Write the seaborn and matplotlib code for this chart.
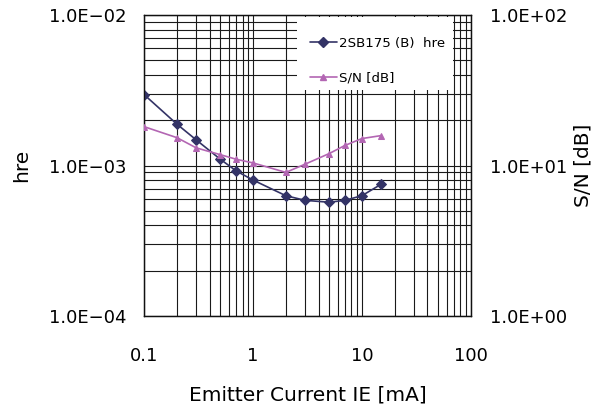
import matplotlib
matplotlib.use("Agg")
import numpy as np
import pandas as pd
import matplotlib.pyplot as plt
import seaborn as sns
from matplotlib.ticker import LogLocator, FixedLocator, FuncFormatter, NullFormatter
from matplotlib.patches import Rectangle
from matplotlib.lines import Line2D

# Emitter current sweep and the two measured quantities
current_ma = [0.1, 0.2, 0.3, 0.5, 0.7, 1, 2, 3, 5, 7, 10, 15]
hre = [2.95e-3, 1.88e-3, 1.48e-3, 1.10e-3, 0.92e-3, 0.80e-3,
       0.63e-3, 0.587e-3, 0.57e-3, 0.587e-3, 0.63e-3, 0.75e-3]
sn_db = [18.1, 15.3, 13.1, 11.8, 11.0, 10.4, 9.0, 10.2, 12.0, 13.6, 15.1, 15.8]

x_ticks = [0.1, 1, 10, 100]
x_tick_labels = ["0.1", "1", "10", "100"]
hre_ticks = [1e-4, 1e-3, 1e-2]
sn_ticks = [1, 10, 100]

hre_name = "2SB175 (B)  hre"
sn_name = "S/N [dB]"

hre_color = "#333366"
sn_color = "#B366B3"

sns.set_style("white")
plt.rcParams["font.family"] = ["DejaVu Sans", "Noto Sans CJK JP"]
plt.rcParams["text.color"] = "black"
plt.rcParams["axes.labelcolor"] = "black"

df_hre = pd.DataFrame({"IE": current_ma, "hre": hre})
df_sn = pd.DataFrame({"IE": current_ma, "sn": sn_db})

fig = plt.figure(figsize=(6.05, 4.12), dpi=100)
ax = fig.add_axes([0.2385, 0.233, 0.5395, 0.7306])
ax2 = ax.twinx()

sns.lineplot(data=df_hre, x="IE", y="hre", ax=ax, color=hre_color,
             marker="D", markersize=5.5, markeredgecolor=hre_color,
             linewidth=1.2, zorder=3)
sns.lineplot(data=df_sn, x="IE", y="sn", ax=ax2, color=sn_color,
             marker="^", markersize=5, markeredgecolor=sn_color,
             linewidth=1.2, zorder=3)

for a in (ax, ax2):
    a.set_xscale("log")
    a.set_yscale("log")
    a.set_xlim(0.1, 100)
ax.set_ylim(1e-4, 1e-2)
ax2.set_ylim(1, 100)

sci = FuncFormatter(lambda v, p: f"{v:.1E}".replace("-", "−"))

ax.xaxis.set_major_locator(FixedLocator(x_ticks))
ax.set_xticklabels(x_tick_labels)
ax.xaxis.set_minor_locator(LogLocator(base=10, subs=np.arange(2, 10)))
ax.xaxis.set_minor_formatter(NullFormatter())

ax.yaxis.set_major_locator(FixedLocator(hre_ticks))
ax.yaxis.set_major_formatter(sci)
ax.yaxis.set_minor_locator(LogLocator(base=10, subs=np.arange(2, 10)))
ax.yaxis.set_minor_formatter(NullFormatter())

ax2.yaxis.set_major_locator(FixedLocator(sn_ticks))
ax2.yaxis.set_major_formatter(sci)
ax2.yaxis.set_minor_locator(LogLocator(base=10, subs=np.arange(2, 10)))
ax2.yaxis.set_minor_formatter(NullFormatter())

grid_kw = dict(color="#1a1a1a", linewidth=0.8)
ax.grid(True, which="both", axis="both", **grid_kw)
ax.set_axisbelow(True)

for a in (ax, ax2):
    for s in a.spines.values():
        s.set_color("#111111")
        s.set_linewidth(0.9)
    a.tick_params(which="both", length=0, labelsize=13, colors="black")
ax.tick_params(axis="y", pad=13)
ax.tick_params(axis="x", pad=22)
ax2.tick_params(axis="y", pad=14)

ax.set_xlabel("Emitter Current IE [mA]", fontsize=14.5)
ax.set_ylabel("hre", fontsize=14.5)
ax2.set_ylabel(sn_name, fontsize=14.5)
ax.xaxis.set_label_coords(0.5, -0.262)
ax.xaxis.label.set_va("center")
ax.yaxis.set_label_coords(-0.375, 0.5)
ax.yaxis.label.set_va("center")
ax2.yaxis.set_label_coords(1.344, 0.5)
ax2.yaxis.label.set_va("center")

# white legend panel in the upper right
ax2.add_patch(Rectangle((0.468, 0.751), 0.479, 0.241, transform=ax2.transAxes,
                        facecolor="white", edgecolor="none", zorder=4))
handles = [
    Line2D([], [], color=hre_color, marker="D", markersize=5, linewidth=1.2),
    Line2D([], [], color=sn_color, marker="^", markersize=4.5, linewidth=1.2),
]
leg = ax2.legend(handles, [hre_name, sn_name], loc="upper left",
                 bbox_to_anchor=(0.455, 0.985), frameon=False, fontsize=9.6,
                 handlelength=2.0, handletextpad=0.15, labelspacing=1.6,
                 borderpad=1.3, borderaxespad=0.0)
leg.set_zorder(5)
for t in leg.get_texts():
    t.set_color("black")

fig.savefig("out.png", dpi=100)
